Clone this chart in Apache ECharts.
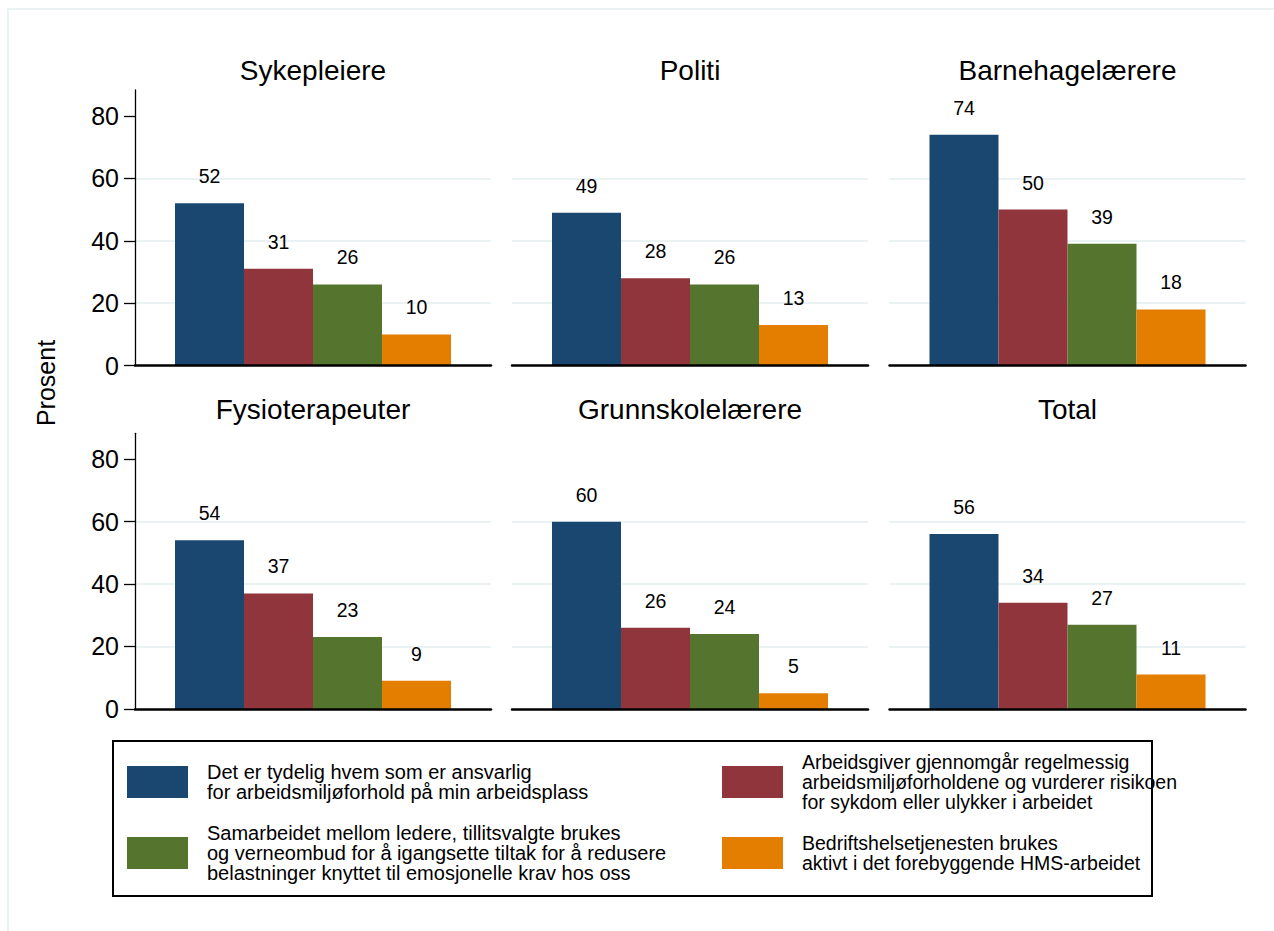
<!DOCTYPE html>
<html>
<head>
<meta charset="utf-8">
<script src="https://cdn.jsdelivr.net/npm/echarts@6/dist/echarts.min.js"></script>
<style>
  html, body { margin: 0; padding: 0; background: #ffffff; }
  #chart { width: 1274px; height: 931px; }
</style>
</head>
<body>
<div id="chart"></div>
<script>
// Occupational groups, one panel each
const panels = ['Sykepleiere', 'Politi', 'Barnehagelærere', 'Fysioterapeuter', 'Grunnskolelærere', 'Total'];

// Statements (series names, shown in the legend)
const seriesNames = [
  'Det er tydelig hvem som er ansvarlig\nfor arbeidsmiljøforhold på min arbeidsplass',
  'Arbeidsgiver gjennomgår regelmessig\narbeidsmiljøforholdene og vurderer risikoen\nfor sykdom eller ulykker i arbeidet',
  'Samarbeidet mellom ledere, tillitsvalgte brukes\nog verneombud for å igangsette tiltak for å redusere\nbelastninger knyttet til emosjonelle krav hos oss',
  'Bedriftshelsetjenesten brukes\naktivt i det forebyggende HMS-arbeidet'
];

// Percent agreeing, per panel (same order as panels)
const ansvarlig     = [52, 49, 74, 54, 60, 56];
const gjennomgar    = [31, 28, 50, 37, 26, 34];
const samarbeid     = [26, 26, 39, 23, 24, 27];
const bedriftshelse = [10, 13, 18, 9, 5, 11];

// Y axis
const yTicks = [0, 20, 40, 60, 80];
const yMax = 88.3;
const yTitle = 'Prosent';

// ---- styling / layout ----
const FONT = "'Liberation Sans', Arial, Helvetica, sans-serif";
const colors = ['#1a476f', '#90353b', '#55752f', '#e37e00'];
const values = [ansvarlig, gjennomgar, samarbeid, bedriftshelse];
const colLeft = [135, 512, 889.5];
const plotW = 356;
const rowTop = [90, 433.3];
const plotH = 275.6;
const titleY = [70.5, 409];
const gridColor = '#eaf2f3';

const grids = [], xAxes = [], yAxes = [], series = [], graphics = [];

panels.forEach((p, i) => {
  const row = Math.floor(i / 3), col = i % 3;
  const first = col === 0;
  grids.push({ left: colLeft[col], top: rowTop[row], width: plotW, height: plotH, containLabel: false });
  xAxes.push({
    type: 'category', gridIndex: i, data: [p], z: 5,
    axisLine: { show: true, lineStyle: { color: '#000', width: 2.5 } },
    axisTick: { show: false }, axisLabel: { show: false }, splitLine: { show: false }
  });
  yAxes.push({
    type: 'value', gridIndex: i, min: 0, max: yMax, interval: 20,
    axisLine: { show: first, lineStyle: { color: '#000', width: 1.3 } },
    axisTick: { show: first, length: 11, customValues: yTicks, lineStyle: { color: '#000', width: 1.3 } },
    axisLabel: { show: first, customValues: yTicks, fontSize: 25, color: '#000', margin: 16, fontFamily: FONT },
    splitLine: { show: true, showMinLine: false, showMaxLine: false, lineStyle: { color: gridColor, width: 2 } }
  });
  graphics.push({
    type: 'text', x: colLeft[col] + plotW / 2, y: titleY[row], silent: true,
    style: {
      text: p, fill: '#000', font: '28px ' + FONT,
      align: 'center', verticalAlign: 'middle', textAlign: 'center', textVerticalAlign: 'middle'
    }
  });
});

seriesNames.forEach((name, s) => {
  panels.forEach((p, i) => {
    series.push({
      type: 'bar', name: name, xAxisIndex: i, yAxisIndex: i,
      data: [values[s][i]],
      barWidth: 69, barGap: '0%',
      itemStyle: { color: colors[s] },
      label: { show: true, position: 'top', distance: 17, fontSize: 19.5, color: '#000', fontFamily: FONT },
      emphasis: { disabled: true }
    });
  });
});

// Legend: four entries in two columns inside a framed box
const legendIconW = 61, legendIconH = 32, legendLH = 20;
const legendSpots = [[127, 766], [722, 766], [127, 837], [722, 837]];
const legendFontSize = [20, 19.5, 20, 19.5];
const legends = seriesNames.map((name, s) => {
  const lines = name.split('\n').length;
  const [x, y] = legendSpots[s];
  return {
    data: [name], left: x, top: y + Math.min(0, legendIconH / 2 - lines * legendLH / 2),
    padding: 0, itemWidth: legendIconW, itemHeight: legendIconH, icon: 'rect',
    selectedMode: false,
    textStyle: { fontSize: legendFontSize[s], lineHeight: legendLH, color: '#000', fontFamily: FONT, padding: [0, 0, 0, 14] }
  };
});

// Outer graph region outline
graphics.unshift({
  type: 'rect', silent: true, z: -10,
  shape: { x: 8, y: 9, width: 1300, height: 1000 },
  style: { fill: 'none', stroke: gridColor, lineWidth: 2 }
});
// Legend frame
graphics.push({
  type: 'rect', silent: true,
  shape: { x: 113, y: 741, width: 1039, height: 155 },
  style: { fill: 'none', stroke: '#000', lineWidth: 2 }
});
// Shared y axis title
graphics.push({
  type: 'text', x: 46, y: 383, rotation: Math.PI / 2, silent: true,
  style: {
    text: yTitle, fill: '#000', font: '25px ' + FONT,
    align: 'center', verticalAlign: 'middle', textAlign: 'center', textVerticalAlign: 'middle'
  }
});

const chart = echarts.init(document.getElementById('chart'), null, { renderer: 'svg' });
chart.setOption({
  backgroundColor: '#ffffff',
  animation: false,
  grid: grids,
  xAxis: xAxes,
  yAxis: yAxes,
  legend: legends,
  series: series,
  graphic: graphics
});
</script>
</body>
</html>
